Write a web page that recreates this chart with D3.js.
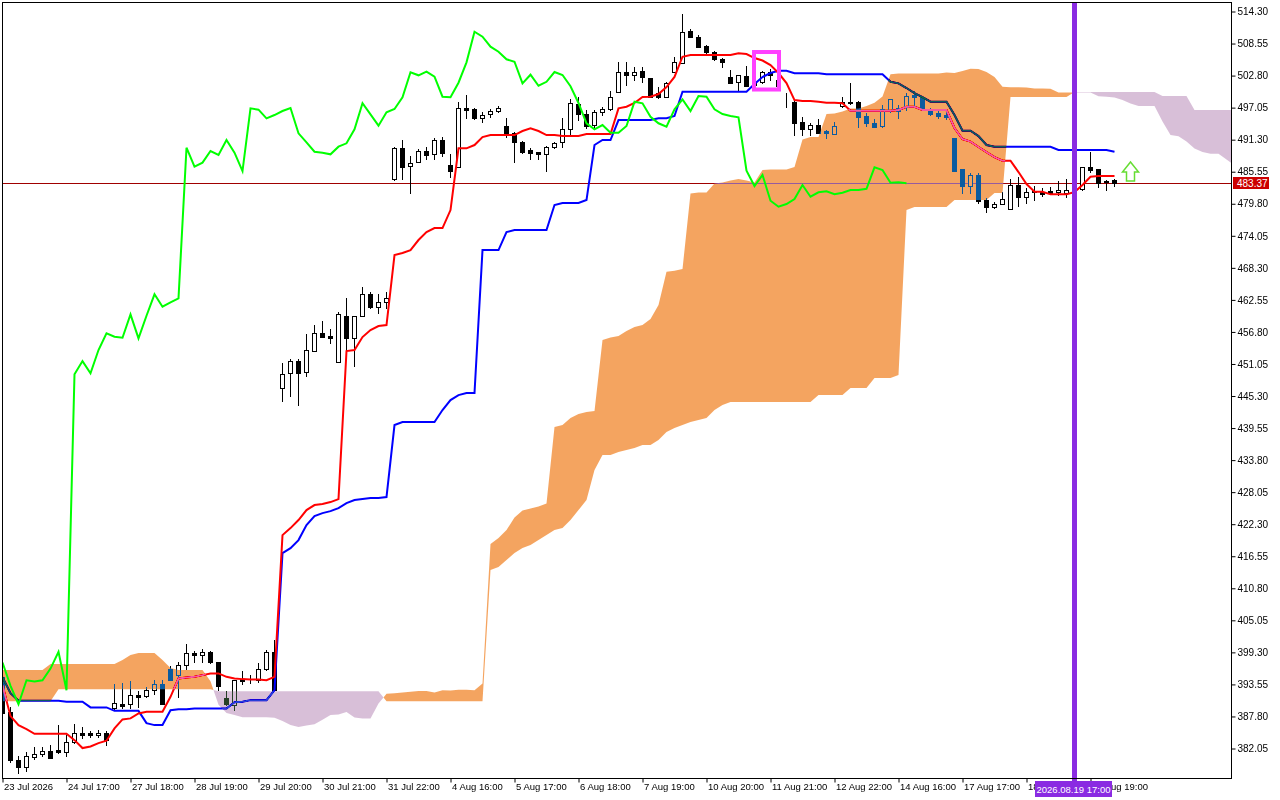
<!DOCTYPE html>
<html><head><meta charset="utf-8">
<script src="https://cdn.jsdelivr.net/npm/d3@7"></script>
<style>
html,body{margin:0;padding:0;background:#fff;}
svg{display:block;}
text{font-family:"Liberation Sans",Arial,sans-serif;}
</style>
</head><body>
<svg id="chart" width="1280" height="800"></svg>
<script>
// ---------- DATA ----------
const opens=[394.8,388.55,379.88,378.57,380.5,381.0,381.5,381.67,381.4,383.2,
384.8,384.8,384.4,384.8,389.3,389.9,389.93,391.5,391.37,392.4,
393.5,396.16,395.1,397.0,399.1,398.8,399.3,397.5,391.1,389.8,
394.4,394.3,394.3,396.3,399.3,446.59,449.28,451.48,449.46,453.34,
456.46,455.97,451.25,459.62,455.56,459.62,463.46,461.23,462.02,484.15,
489.66,486.48,487.15,489.17,488.58,491.15,486.66,486.36,496.84,496.71,
495.04,495.76,496.35,493.66,492.35,490.74,489.35,488.94,488.64,489.84,
490.79,493.07,497.56,495.81,493.84,496.12,496.66,499.71,503.30,502.76,
503.53,502.22,499.64,498.92,503.41,505.02,510.71,509.58,508.02,507.0,
505.63,502.40,501.61,502.63,501.0,501.61,503.3,502.0,497.84,498.02,
494.43,493.07,493.84,492.82,492.23,497.30,498.02,498.02,495.46,494.15,
493.66,496.53,496.84,497.13,499.23,498.92,496.41,496.05,495.63,491.45,
485.94,482.95,484.87,480.38,479.18,479.61,478.71,483.07,480.97,481.82,
481.87,482.05,481.76,481.58,481.7,482.30,486.25,485.89,483.84,483.91];
const highs=[396.9,389.45,380.6,381.37,382.3,382.3,382.5,386.2,384.4,386.3,
385.9,385.1,385.3,385.1,393.6,393.7,394.0,392.3,392.93,394.2,
394.2,396.7,397.5,400.7,399.5,399.9,399.5,397.5,392.2,394.2,
395.9,395.1,397.3,399.7,401.4,451.07,451.79,451.79,456.28,457.95,
458.66,457.17,460.23,462.74,459.62,464.82,463.92,463.46,463.82,489.9,
491.15,488.28,489.53,489.95,491.45,491.63,488.58,497.91,499.23,496.9,
496.12,496.71,497.30,495.04,492.5,490.9,489.77,489.05,490.13,490.84,
495.04,498.45,498.81,496.53,496.53,497.13,500.0,505.09,505.2,504.30,
504.30,502.3,500.71,501.5,506.10,513.76,511.07,510.0,508.2,507.1,
505.81,503.71,502.87,504.43,502.0,503.48,503.84,502.4,499.64,498.1,
495.33,494.25,494.86,492.94,494.43,498.92,501.32,498.1,495.94,494.92,
497.43,498.5,497.43,499.53,500.0,499.0,496.95,496.41,496.23,491.5,
486.0,485.17,485.17,480.79,480.08,481.76,484.15,484.56,482.48,482.89,
482.48,482.77,483.79,484.15,483.0,486.3,489.05,486.0,483.97,484.09];
const lows=[387.9,379.57,377.55,377.9,380.0,380.6,380.2,381.2,380.6,383.0,
383.8,384.1,384.1,382.6,389.1,389.3,389.3,389.4,391.25,391.8,
389.9,394.2,391.25,396.2,397.5,397.5,397.3,392.5,389.8,388.95,
393.6,393.7,393.9,396.0,392.4,444.36,445.2,443.59,448.79,453.34,
455.85,454.66,451.25,453.16,450.64,459.62,461.05,460.05,461.05,484.0,
484.09,481.58,487.15,487.74,487.74,488.28,484.56,486.36,495.04,494.9,
494.33,495.33,496.12,491.74,487.15,488.9,487.74,487.74,485.64,489.66,
489.89,491.87,494.74,493.25,493.54,495.63,496.53,499.71,501.02,501.92,
501.61,498.8,498.63,498.8,503.41,504.91,509.58,507.79,506.40,505.5,
504.30,501.32,500.12,500.89,500.4,501.43,501.92,500.5,497.13,492.05,
492.05,492.05,492.35,491.45,492.23,497.13,497.56,493.43,493.66,493.43,
493.43,496.23,495.04,496.53,497.13,496.5,495.63,495.04,494.86,485.6,
481.69,481.69,479.90,478.28,478.89,479.61,478.71,479.36,479.90,480.38,
481.15,481.46,481.28,480.97,481.0,482.2,485.46,482.77,482.25,482.89];
const closes=[388.3,379.88,378.57,380.6,381.0,381.6,380.2,381.3,383.2,384.8,
384.4,384.3,384.8,383.5,390.2,389.5,391.55,391.25,392.39,393.5,
389.9,394.2,397.0,399.1,398.8,399.3,397.4,393.2,389.9,394.2,
394.0,394.2,396.3,399.3,392.4,449.10,451.48,449.28,453.46,456.46,
455.85,455.67,459.87,455.56,459.62,463.46,461.23,462.02,462.74,489.77,
486.36,487.08,489.17,488.46,491.15,488.87,485.58,496.84,496.59,495.04,
495.63,496.35,496.89,492.35,490.74,489.05,488.87,488.58,489.95,490.56,
493.07,497.74,495.76,493.72,496.12,496.71,498.81,503.3,502.76,503.41,
502.51,498.92,498.81,501.43,505.09,510.58,509.69,507.89,507.0,505.63,
505.2,501.32,502.87,500.89,501.6,503.35,502.81,500.8,497.79,494.15,
493.07,493.84,492.46,492.46,493.66,498.02,497.74,495.33,494.15,493.54,
496.66,498.45,496.35,499.04,498.92,496.66,495.81,495.46,495.22,485.64,
482.89,484.87,480.25,479.18,479.66,480.56,483.07,480.97,481.76,481.94,
481.41,481.69,482.17,482.17,482.4,486.25,485.76,483.49,483.55,483.37];
const tenkan=[393.33,387.77,386.15,385.43,384.60,384.60,384.60,384.60,384.60,383.46,
382.04,382.33,382.93,383.35,385.56,387.18,387.36,388.26,388.54,388.54,
388.54,391.23,394.53,394.71,394.82,395.13,395.43,395.43,394.82,394.53,
394.41,394.35,394.35,394.23,394.82,420.25,421.51,422.95,424.74,425.64,
425.82,426.18,426.72,453.28,453.46,455.79,457.05,457.76,457.94,470.51,
470.87,471.40,473.20,474.63,475.35,475.35,478.58,489.66,489.66,490.25,
491.68,492.04,492.04,492.04,492.04,492.76,493.24,492.76,492.04,492.04,
491.86,491.86,491.86,492.22,492.22,492.22,492.22,496.83,497.12,497.79,
498.86,498.92,499.40,500.66,502.46,506.09,506.40,506.40,506.40,506.40,
506.40,506.40,506.70,506.58,505.86,505.41,504.60,503.17,501.37,498.32,
498.14,498.14,498.02,497.84,497.84,497.73,496.40,496.40,496.40,496.40,
496.40,496.40,496.53,497.12,497.12,496.53,496.53,496.53,496.53,493.30,
491.32,490.87,489.89,488.99,488.09,487.43,487.43,485.40,483.25,481.87,
481.87,481.40,481.40,481.40,481.81,483.07,484.56,484.68,484.68,484.68];
const kijun=[394.77,391.90,390.52,390.52,390.52,390.52,390.52,390.52,390.34,390.34,
390.34,389.33,389.33,389.33,388.72,388.72,388.72,388.72,386.51,386.16,
386.16,388.84,389.02,389.02,389.15,389.15,389.15,389.15,389.15,390.28,
390.34,390.64,390.64,390.64,392.43,417.02,417.92,419.36,422.05,423.66,
424.20,424.56,425.10,426.00,426.54,426.72,426.90,426.90,427.08,440.00,
440.54,440.54,440.54,440.54,440.54,442.69,444.48,445.38,445.74,445.74,
471.40,471.40,471.40,474.63,474.99,474.99,474.99,474.99,474.99,479.48,
479.84,479.84,479.84,480.38,490.25,491.15,491.15,494.73,494.73,494.73,
494.73,494.73,495.04,495.04,495.45,499.81,499.81,499.81,499.81,499.81,
499.81,499.81,499.81,499.81,501.19,502.46,503.17,503.58,503.58,503.12,
503.12,503.12,503.12,502.94,502.94,502.94,502.94,502.94,502.94,502.94,
502.94,501.61,501.32,500.48,499.58,498.86,498.02,498.02,498.02,495.63,
492.81,492.81,491.86,490.25,489.94,489.94,489.94,489.94,489.94,489.94,
489.94,489.94,489.35,489.35,489.35,489.35,489.35,489.35,489.35,489.05];
const spanA=[396.03,396.03,396.03,396.03,396.03,396.03,397.11,397.11,397.11,397.11,
397.11,397.11,397.11,397.11,397.11,397.82,398.72,399.08,399.08,399.08,
397.82,396.39,396.03,396.03,396.03,396.03,394.05,389.83,388.33,387.97,
387.55,387.55,387.55,387.55,387.46,386.89,386.16,385.80,386.10,386.30,
387.14,387.95,388.04,388.49,387.52,387.34,387.34,390.03,391.77,391.86,
391.99,392.13,392.29,392.29,391.99,392.40,392.36,392.49,392.49,392.43,
393.62,418.64,419.72,421.15,423.40,424.65,425.01,425.37,425.91,439.64,
440.00,441.25,441.97,442.33,442.51,455.25,455.70,455.97,456.86,457.58,
457.94,459.02,461.53,467.51,467.69,467.99,481.54,481.72,481.72,483.34,
483.52,483.88,484.15,483.88,483.52,485.76,485.85,485.85,485.85,486.30,
491.24,491.68,491.68,495.81,495.92,496.26,496.80,496.82,497.25,497.84,
498.95,502.95,503.10,503.10,503.10,503.10,503.10,503.10,503.26,503.19,
503.53,503.92,503.89,503.37,502.47,500.71,500.62,500.62,500.57,500.39,
500.39,500.33,499.67,499.67,499.67,499.67,499.67,499.00,498.91,498.79,
498.34,497.69,497.26,497.26,497.26,494.46,492.06,491.84,490.88,489.62,
489.01,488.69,488.69,487.66,486.60];
const spanB=[390.46,390.46,390.46,390.46,390.46,390.46,390.46,392.61,392.61,392.61,
392.61,392.61,392.61,392.61,392.61,392.61,392.61,392.61,392.61,392.61,
392.61,392.61,392.61,392.61,392.61,392.61,392.61,392.25,392.25,392.25,
392.25,392.25,392.25,392.25,392.25,392.25,392.25,392.25,392.25,392.25,
392.25,392.25,392.25,392.25,392.25,392.25,392.25,392.25,390.46,390.46,
390.46,390.46,390.46,390.46,390.46,390.46,390.46,390.46,390.46,390.46,
390.46,413.97,414.51,415.77,417.02,417.92,418.46,419.36,420.25,421.15,
421.51,422.95,424.74,426.54,431.92,434.61,434.61,435.15,435.51,435.87,
436.41,436.41,437.30,438.74,439.46,440.00,440.54,440.90,441.25,442.69,
443.59,444.12,444.12,444.12,444.12,444.12,444.12,444.12,444.12,444.12,
444.12,444.12,445.38,445.38,445.38,445.38,446.64,446.64,446.64,448.43,
448.43,448.43,448.97,478.58,479.12,479.12,479.12,479.12,479.12,480.38,
480.38,480.38,480.38,480.38,481.63,481.63,498.86,498.86,498.86,498.86,
498.86,498.86,498.86,498.86,499.76,499.76,499.76,499.76,499.76,499.76,
499.76,499.76,499.76,499.76,499.76,499.04,499.04,499.04,499.04,496.53,
496.53,496.53,496.53,496.53,496.53];
const chikouShift=26;
const yTicks=[514.30,508.55,502.80,497.05,491.30,485.55,479.80,474.05,468.30,462.55,456.80,451.05,
445.30,439.55,433.80,428.05,422.30,416.55,410.80,405.05,399.30,393.55,387.80,382.05];
const xLabelBars=[0,8,16,24,32,40,48,56,64,72,80,88,96,104,112,120,128,136];
const xLabels=["23 Jul 2026","24 Jul 17:00","27 Jul 18:00","28 Jul 19:00","29 Jul 20:00","30 Jul 21:00",
"31 Jul 22:00","4 Aug 16:00","5 Aug 17:00","6 Aug 18:00","7 Aug 19:00","10 Aug 20:00","11 Aug 21:00",
"12 Aug 22:00","14 Aug 16:00","17 Aug 17:00","18 Aug 18:00","19 Aug 19:00"];
const lastPrice=483.37;
const vlineBar=134, vlineLabel="2026.08.19 17:00";
const boxBars=[94,97.125], boxPrices=[506.94,500.21];
const arrowBar=141, arrowPrice=485.6;

// ---------- LAYOUT ----------
const L=2,R=1231,T=2,B=778;
const svg=d3.select("#chart");
const xs=d3.scaleLinear().domain([0,(R-L)/8]).range([L,R]);
const ys=d3.scaleLinear().domain([376.667,515.915]).range([B,T]);
const px=i=>Math.round(xs(i));

svg.append("rect").attr("width",1280).attr("height",800).attr("fill","#fff");
const defs=svg.append("defs");
defs.append("clipPath").attr("id","clip").append("rect").attr("x",L).attr("y",T).attr("width",R-L).attr("height",B-T);

// price line
svg.append("line").attr("x1",L).attr("x2",R).attr("y1",Math.round(ys(lastPrice))+0.5).attr("y2",Math.round(ys(lastPrice))+0.5)
  .attr("stroke","#a00000").attr("stroke-width",1);

// candles
const gC=svg.append("g").attr("clip-path","url(#clip)");
for(let i=0;i<opens.length;i++){
  const cx=px(i);
  gC.append("line").attr("x1",cx+0.5).attr("x2",cx+0.5)
    .attr("y1",Math.round(ys(highs[i]))).attr("y2",Math.round(ys(lows[i]))+1)
    .attr("stroke","#000").attr("stroke-width",1);
  const up=closes[i]>=opens[i];
  const top=Math.round(ys(Math.max(opens[i],closes[i])));
  const bot=Math.round(ys(Math.min(opens[i],closes[i])));
  gC.append("rect").attr("x",cx-1.5).attr("y",top+0.5).attr("width",4).attr("height",Math.max(bot-top,0))
    .attr("fill",up?"#fff":"#000").attr("stroke","#000").attr("stroke-width",1);
}

// tenkan / kijun
const gL=svg.append("g").attr("clip-path","url(#clip)");
const line=d3.line().x((d,i)=>xs(i)+0.5).y(d=>ys(d));
gL.append("path").attr("d",line(kijun)).attr("fill","none").attr("stroke","#0000ff").attr("stroke-width",2);
gL.append("path").attr("d",line(tenkan)).attr("fill","none").attr("stroke","#ff0000").attr("stroke-width",2);

// cloud (drawn in inverting mode like the terminal)
function cloudPolys(A,Bv){
  const polys=[];let cur=null;
  for(let i=0;i<A.length;i++){
    const s=A[i]>=Bv[i]?1:-1;
    if(!cur){cur={s,top:[[i,A[i]]],bot:[[i,Bv[i]]]};continue;}
    if(s!==cur.s){
      const d0=A[i-1]-Bv[i-1],d1=A[i]-Bv[i],t=d0/(d0-d1);
      const xi=i-1+t,vi=A[i-1]+t*(A[i]-A[i-1]);
      cur.top.push([xi,vi]);cur.bot.push([xi,vi]);polys.push(cur);
      cur={s,top:[[xi,vi],[i,A[i]]],bot:[[xi,vi],[i,Bv[i]]]};
    } else {cur.top.push([i,A[i]]);cur.bot.push([i,Bv[i]]);}
  }
  polys.push(cur);return polys;
}
const gK=svg.append("g").attr("clip-path","url(#clip)").style("mix-blend-mode","difference");
cloudPolys(spanA,spanB).forEach(p=>{
  const pts=p.top.concat(p.bot.slice().reverse()).map(d=>[xs(d[0])+0.5,ys(d[1])]);
  gK.append("path").attr("d","M"+pts.map(d=>d[0].toFixed(2)+","+d[1].toFixed(2)).join("L")+"Z")
    .attr("fill",p.s>0?"#0b5b9f":"#274027");
});

// chikou
const gH=svg.append("g").attr("clip-path","url(#clip)");
const chikou=closes.slice(chikouShift);
gH.append("path").attr("d",line(chikou)).attr("fill","none").attr("stroke","#00ff00").attr("stroke-width",2);

// magenta box
svg.append("rect").attr("x",xs(boxBars[0])).attr("y",ys(boxPrices[0])).attr("width",xs(boxBars[1])-xs(boxBars[0]))
  .attr("height",ys(boxPrices[1])-ys(boxPrices[0])).attr("fill","none").attr("stroke","#ff40ff").attr("stroke-width",4);

// arrow
const ax=xs(arrowBar)+0.5, ay=ys(arrowPrice);
svg.append("path").attr("d",`M${ax},${ay-9} L${ax+8},${ay+1} L${ax+4},${ay+1} L${ax+4},${ay+10} L${ax-4},${ay+10} L${ax-4},${ay+1} L${ax-8},${ay+1} Z`)
  .attr("fill","#fff").attr("stroke","#66dd33").attr("stroke-width",1.5);

// vertical line
const vx=px(vlineBar);
svg.append("rect").attr("x",vx-2).attr("y",T).attr("width",5).attr("height",B-T+4).attr("fill","#8a2be2");

// frame
svg.append("rect").attr("x",L+0.5).attr("y",T+0.5).attr("width",R-L).attr("height",B-T).attr("fill","none").attr("stroke","#000");

// y axis
const yAx=svg.append("g").attr("transform",`translate(${R+0.5},0.5)`)
  .call(d3.axisRight(ys).tickValues(yTicks).tickSize(4).tickPadding(2).tickFormat(d3.format(".2f")));
yAx.select(".domain").remove();
yAx.selectAll("line").attr("stroke","#000");
yAx.selectAll("text").attr("font-size",10).attr("fill","#000").attr("font-family","Liberation Sans, Arial, sans-serif");

// x axis (labels under the time marker are hidden by it, as in the terminal)
const vlLeft=vx-39, vlRight=vx+38;
defs.append("clipPath").attr("id","clipL").append("rect").attr("x",0).attr("y",B).attr("width",vlLeft).attr("height",30);
defs.append("clipPath").attr("id","clipR").append("rect").attr("x",vlRight).attr("y",B).attr("width",1280-vlRight).attr("height",30);
const xAx=svg.append("g").attr("transform",`translate(0.5,${B+0.5})`)
  .call(d3.axisBottom(xs).tickValues(xLabelBars).tickSize(4).tickFormat((d,i)=>xLabels[i]));
xAx.select(".domain").remove();
xAx.selectAll("line").attr("stroke","#000");
xAx.selectAll("text").attr("font-size",9.5).attr("fill","#000").attr("text-anchor","start").attr("dx",1).attr("dy","0.5em")
  .attr("font-family","Liberation Sans, Arial, sans-serif");
xAx.selectAll(".tick").each(function(d){
  const gx=xs(d);
  if(gx<vlLeft && gx+60>vlLeft) d3.select(this).select("text").attr("clip-path","url(#clipL)");
  if(gx<vlRight && gx+60>vlRight) d3.select(this).select("text").attr("clip-path","url(#clipR)");
});
xAx.selectAll("text[clip-path]").each(function(){
  const t=d3.select(this), g=d3.select(this.parentNode);
  const m=/translate\(([-\d.]+),([-\d.]+)\)/.exec(g.attr("transform"));
  const gx=+m[1]+0.5;
  svg.append("text").attr("x",gx+1).attr("y",B+7.5).attr("dy","0.5em").attr("font-size",9.5).attr("fill","#000")
    .attr("clip-path",t.attr("clip-path")).text(t.text());
  t.remove();
});

// price label
const py=Math.round(ys(lastPrice));
svg.append("rect").attr("x",R+2).attr("y",py-6).attr("width",36).attr("height",12).attr("fill","#cc0000");
svg.append("text").attr("x",R+6).attr("y",py+4).attr("font-size",10).attr("fill","#fff").text(lastPrice.toFixed(2));

// vertical line label
svg.append("rect").attr("x",vlLeft).attr("y",B+3).attr("width",vlRight-vlLeft).attr("height",16).attr("fill","#8a2be2");
svg.append("text").attr("x",(vlLeft+vlRight)/2).attr("y",B+15).attr("text-anchor","middle").attr("font-size",9.5).attr("fill","#fff").text(vlineLabel);
</script>
</body></html>
